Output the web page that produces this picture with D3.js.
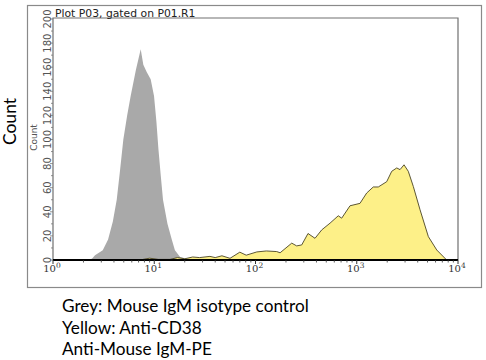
<!DOCTYPE html>
<html><head><meta charset="utf-8">
<script src="https://cdn.jsdelivr.net/npm/d3@7"></script>
<style>body{margin:0;background:#fff}svg{display:block}</style>
</head><body>
<svg id="c" width="486" height="360"></svg>
<script>
const title = "Plot P03, gated on P01.R1";
const yTicks = [0,20,40,60,80,100,120,140,160,180,200];
const xTickExps = [0,1,2,3,4];
const captionLines = ["Grey: Mouse IgM isotype control","Yellow: Anti-CD38","Anti-Mouse IgM-PE"];

const greyX = [2.3,2.45,2.6,3.1,3.5,3.9,4.26,4.6,4.95,5.4,5.85,6.6,7.35,7.8,8.42,9.22,9.95,10.5,11.0,11.6,12.2,13.5,14.9,16,18,21,23.4];
const greyY = [0,1.5,4,8,17,32,50,75,100,120,136,158,175,162,156,150,136,115,92,70,50,30,17,8,2.5,1,0];

const yellowX = [7.2,9,11,14.3,17,20,24,28,35.5,40,46.6,56,70,81,103,128,162,175,228,255,286,330,387,451,545,657,710,858,1076,1254,1456,1632,1976,2215,2483,2675,2930,3229,3620,4217,5095,6166,7728];
const yellowY = [0,1.5,0.5,0.5,2,1,2.5,2,3,2,3.5,1.4,6.5,4,6.7,7.5,7,6,14,11.7,12.5,22,18,25,30.6,36.7,34.7,45,47,55.6,60.6,60.6,65,73.6,76.4,75,79,73.6,61,41.7,19.4,8.3,0];

const svg = d3.select("#c");
const L=53, R=458, T=18, B=260;
const x = d3.scaleLog().domain([1,1e4]).range([L,R]);
const y = d3.scaleLinear().domain([0,200]).range([B,19]);

// outer frame
svg.append("rect").attr("x",27.5).attr("y",5.5).attr("width",454).attr("height",282)
  .attr("fill","none").attr("stroke","#8a8a8a").attr("stroke-width",1.2);

// areas
const area = d3.area().x(d=>x(d[0])).y0(y(0)).y1(d=>y(d[1]));
const greyData = greyX.map((v,i)=>[v,greyY[i]]);
const yellowData = yellowX.map((v,i)=>[v,yellowY[i]]);
svg.append("path").attr("d",area(greyData)).attr("fill","#a9a9a9");
svg.append("path").attr("d",area(yellowData)).attr("fill","#fdf088")
  .attr("stroke","#4a4424").attr("stroke-width",0.9).attr("stroke-linejoin","round");

// inner frame
svg.append("path").attr("d",`M${L},${B}V${T}H${R}V${B}`).attr("fill","none")
  .attr("stroke","#707070").attr("stroke-width",1.2);
// baseline
svg.append("line").attr("x1",L).attr("x2",R).attr("y1",B).attr("y2",B)
  .attr("stroke","#000").attr("stroke-width",2);

// y ticks
const yMinor = d3.range(0,201,10);
svg.append("g").selectAll("line").data(yMinor).join("line")
  .attr("x1",L).attr("x2",d=>d%20===0?L-3:L-2).attr("y1",d=>y(d)).attr("y2",d=>y(d))
  .attr("stroke","#777").attr("stroke-width",0.8);
svg.append("g").selectAll("text").data(yTicks).join("text")
  .attr("transform",d=>`translate(51,${y(d)}) rotate(-90)`)
  .attr("text-anchor","middle").attr("font-family","DejaVu Sans").attr("font-size",10)
  .attr("fill","#555").text(d=>d);
svg.append("text").attr("transform","translate(37,137.5) rotate(-90)")
  .attr("text-anchor","middle").attr("font-family","DejaVu Sans").attr("font-size",9)
  .attr("fill","#555").text("Count");

// x ticks
const minor = [];
for (let e=0;e<4;e++) for (let k=2;k<=9;k++) minor.push(k*Math.pow(10,e));
svg.append("g").selectAll("line").data(minor).join("line")
  .attr("x1",d=>x(d)).attr("x2",d=>x(d)).attr("y1",B).attr("y2",B+2.5)
  .attr("stroke","#333").attr("stroke-width",0.8);
svg.append("g").selectAll("line").data(xTickExps).join("line")
  .attr("x1",d=>x(Math.pow(10,d))).attr("x2",d=>x(Math.pow(10,d))).attr("y1",B).attr("y2",B+4)
  .attr("stroke","#333").attr("stroke-width",1);
const xl = svg.append("g").selectAll("text").data(xTickExps).join("text")
  .attr("x",d=>x(Math.pow(10,d))-1).attr("y",272)
  .attr("text-anchor","middle").attr("font-family","DejaVu Serif").attr("font-size",10)
  .attr("fill","#333");
xl.append("tspan").text("10");
xl.append("tspan").attr("dy",-4).attr("font-size",7.5).text(d=>d);

// title
svg.append("text").attr("x",55).attr("y",16.5).attr("font-family","DejaVu Sans")
  .attr("font-size",10.8).attr("fill","#222").text(title);

// big Count
svg.append("text").attr("transform","translate(16,121.5) rotate(-90)")
  .attr("text-anchor","middle").attr("font-family","Lato").attr("font-size",17.5)
  .attr("fill","#000").text("Count");

// caption
const cap = svg.append("g").selectAll("text").data(captionLines).join("text")
  .attr("x",62).attr("y",(d,i)=>312+i*21.5).attr("font-family","Lato")
  .attr("font-size",16).attr("fill","#000").text(d=>d);
const w = cap.nodes()[0].getComputedTextLength();
const fs = 16*247/w;
cap.attr("font-size",fs);
</script>
</body></html>
